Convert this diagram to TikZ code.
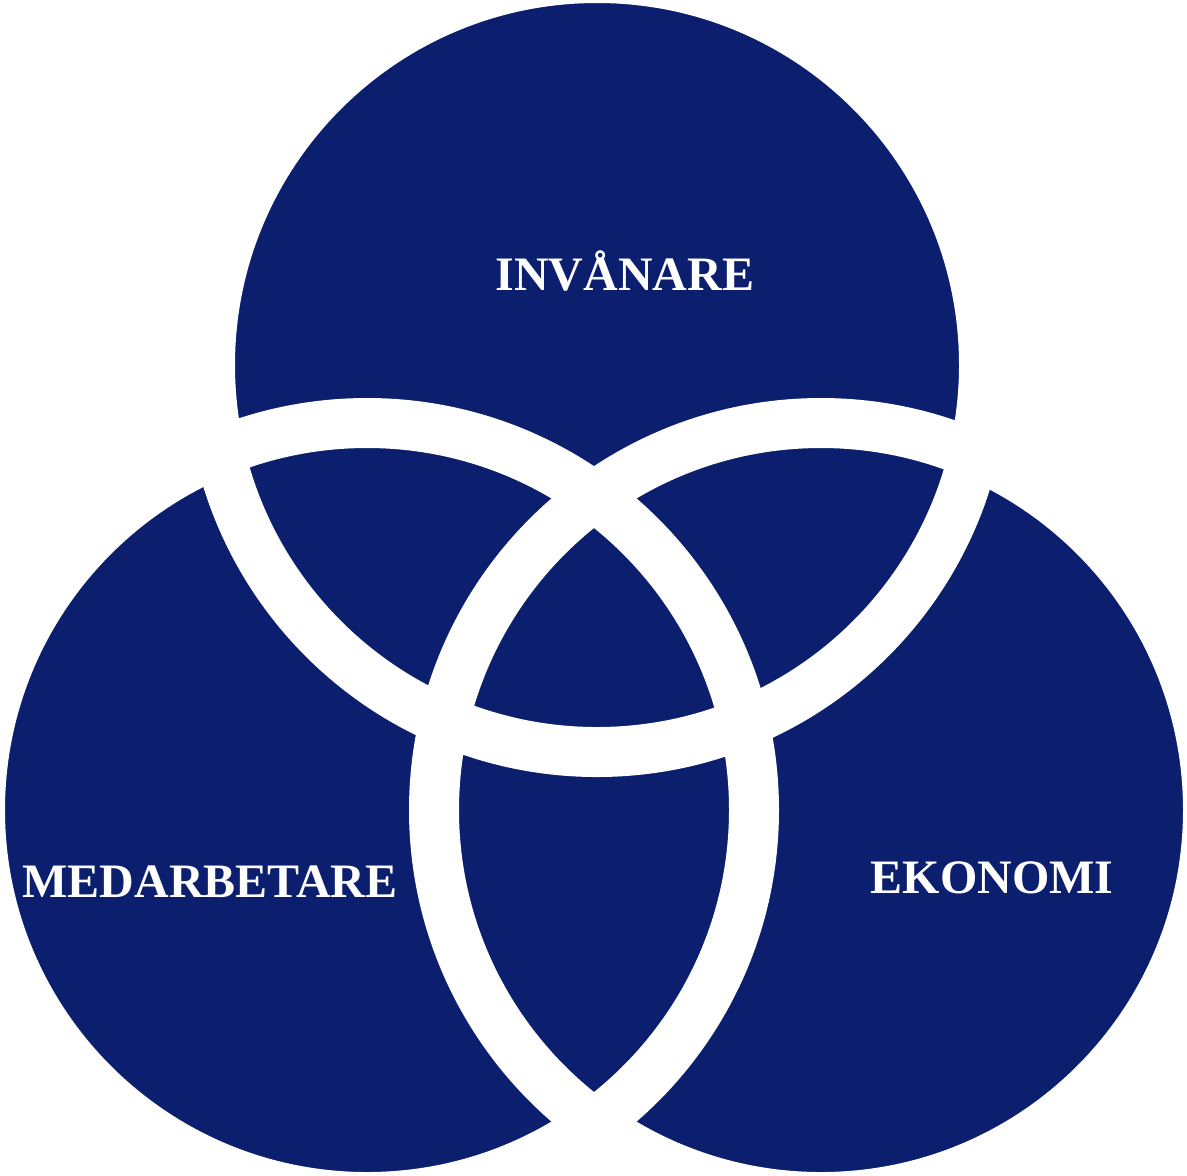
\documentclass[tikz,border=0pt]{standalone}
\usepackage{fontspec}
\setmainfont{Liberation Serif}
\definecolor{navy}{RGB}{11,31,110}
\begin{document}
\begin{tikzpicture}[x=0.5pt,y=-0.5pt,
  disc/.style={fill=navy},
  ring/.style={draw=white,line width=25pt},
  label/.style={text=white,font=\bfseries\fontsize{24}{28}\selectfont,anchor=base,inner sep=0pt}]
\useasboundingbox (0,0) rectangle (1187,1175);
\coordinate (T) at (597,365);
\coordinate (L) at (367,810);
\coordinate (R) at (821,810);
\foreach \c in {T,L,R} \fill[disc] (\c) circle[radius=193.5pt];
\foreach \c in {T,L,R} \draw[ring] (\c) circle[radius=193.5pt];
\node[label] (inv) at (625,290) {INVÅNARE};
\node[label] (med) at (210,897) {MEDARBETARE};
\node[label] (eko) at (992,893) {EKONOMI};
\end{tikzpicture}
\end{document}
